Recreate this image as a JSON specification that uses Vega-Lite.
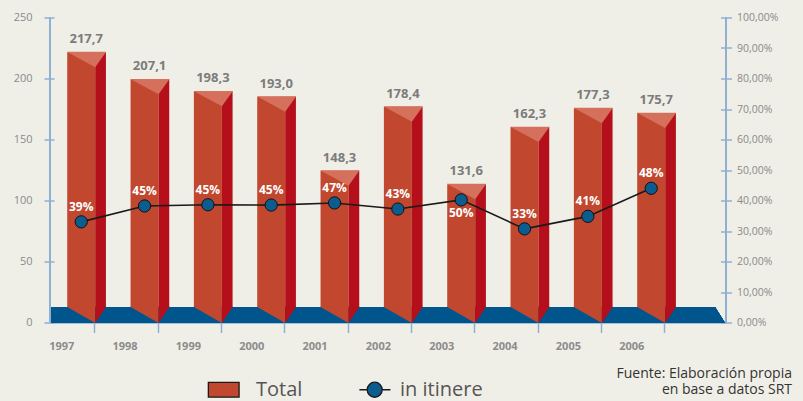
{
  "$schema": "https://vega.github.io/schema/vega-lite/v6.json",
  "width": 676,
  "height": 305,
  "autosize": {"type": "none"},
  "padding": {"left": 50, "top": 17.5, "right": 77, "bottom": 78.5},
  "background": "#f0efe7",
  "data": {
    "values": [
      {"anio": 1997, "valor": 221.5, "total": "217,7", "pct": 0.330, "pct_txt": "39%"},
      {"anio": 1998, "valor": 199.3, "total": "207,1", "pct": 0.382, "pct_txt": "45%"},
      {"anio": 1999, "valor": 189.5, "total": "198,3", "pct": 0.386, "pct_txt": "45%"},
      {"anio": 2000, "valor": 185.1, "total": "193,0", "pct": 0.385, "pct_txt": "45%"},
      {"anio": 2001, "valor": 124.4, "total": "148,3", "pct": 0.392, "pct_txt": "47%"},
      {"anio": 2002, "valor": 176.9, "total": "178,4", "pct": 0.372, "pct_txt": "43%"},
      {"anio": 2003, "valor": 113.3, "total": "131,6", "pct": 0.402, "pct_txt": "50%"},
      {"anio": 2004, "valor": 160.2, "total": "162,3", "pct": 0.307, "pct_txt": "33%"},
      {"anio": 2005, "valor": 175.6, "total": "177,3", "pct": 0.348, "pct_txt": "41%"},
      {"anio": 2006, "valor": 171.7, "total": "175,7", "pct": 0.440, "pct_txt": "48%"}
    ]
  },
  "title": {
    "text": ["Fuente: Elaboración propia", "en base a datos SRT"],
    "orient": "bottom",
    "anchor": "end",
    "frame": "group",
    "align": "right",
    "baseline": "top",
    "fontSize": 14,
    "fontWeight": "normal",
    "font": "Open Sans",
    "color": "#333333",
    "lineHeight": 15.5,
    "offset": -33,
    "dx": 66
  },
  "encoding": {
    "x": {
      "field": "anio",
      "type": "quantitative",
      "scale": {"domain": [1996.507, 2007.181], "nice": false, "zero": false, "padding": 0},
      "axis": {
        "values": [1997, 1998, 1999, 2000, 2001, 2002, 2003, 2004, 2005, 2006],
        "format": "d",
        "title": null,
        "grid": false,
        "domainColor": "#8fb0d3",
        "domainWidth": 1.5,
        "tickColor": "#8fb0d3",
        "tickWidth": 1.5,
        "tickSize": 10,
        "tickOffset": 13,
        "labelOffset": -33,
        "labelPadding": 8,
        "labelFont": "Open Sans",
        "labelFontSize": 11,
        "labelFontWeight": "bold",
        "labelColor": "#8c8c8c"
      }
    }
  },
  "layer": [
    {
      "layer": [
        {
          "mark": {"type": "rect", "color": "#00558c", "opacity": 1},
          "encoding": {
            "x": {"datum": 1996.507},
            "x2": {"datum": 2007.007},
            "y": {"datum": 0, "scale": {"domain": [0, 250], "nice": false}},
            "y2": {"datum": 12.7}
          }
        },
        {
          "mark": {"type": "point", "filled": true, "opacity": 1, "color": "#00558c", "size": 1600, "shape": "M-0.05,0.03L-0.05,-0.78L0,-0.78L0.5,0.03Z"},
          "encoding": {
            "x": {"datum": 2007.007},
            "y": {"datum": 0, "scale": {"domain": [0, 250], "nice": false}}
          }
        },
        {
          "mark": {"type": "bar", "width": 28, "opacity": 1, "color": "#c1472f"},
          "encoding": {
            "y": {
              "field": "valor",
              "type": "quantitative",
              "scale": {"domain": [0, 250], "nice": false},
              "axis": {
                "title": null,
                "values": [0, 50, 100, 150, 200, 250],
                "tickCount": 10,
                "grid": false,
                "domain": false,
                "offset": -4,
                "tickSize": 10,
                "tickColor": "#8fb0d3",
                "tickWidth": 1.5,
                "labelPadding": 12,
                "labelOverlap": false,
                "labelFont": "Open Sans",
                "labelFontSize": 11,
                "labelColor": "#8a8a8a"
              }
            },
            "y2": {"datum": 12.7}
          }
        },
        {
          "mark": {"type": "bar", "width": 10.7, "xOffset": 19.35, "color": "#b40f1a", "opacity": 1},
          "encoding": {
            "y": {"field": "valor", "type": "quantitative", "scale": {"domain": [0, 250], "nice": false}},
            "y2": {"datum": 12.7}
          }
        },
        {
          "mark": {"type": "point", "filled": true, "opacity": 1, "color": "#d4705b", "size": 1600, "shape": "M-0.72,-0.02L1.25,-0.02L0.7,0.75Z"},
          "encoding": {
            "y": {"field": "valor", "type": "quantitative", "scale": {"domain": [0, 250], "nice": false}}
          }
        },
        {
          "mark": {"type": "point", "filled": true, "opacity": 1, "color": "#c1472f", "size": 1600, "shape": "M-0.7,-0.8L-0.7,-0.78L0.7,0.02L0.7,-0.8Z"},
          "encoding": {
            "y": {"datum": 0, "scale": {"domain": [0, 250], "nice": false}}
          }
        },
        {
          "mark": {"type": "point", "filled": true, "opacity": 1, "color": "#b40f1a", "size": 1600, "shape": "M0.7,-0.8L0.7,0.02L1.235,-0.78L1.235,-0.8Z"},
          "encoding": {
            "y": {"datum": 0, "scale": {"domain": [0, 250], "nice": false}}
          }
        },
        {
          "mark": {"type": "rule", "color": "#8fb0d3", "strokeWidth": 1.5},
          "encoding": {
            "x": {"datum": 1996.507},
            "y": {"datum": 0, "scale": {"domain": [0, 250], "nice": false}},
            "y2": {"datum": 250}
          }
        },
        {
          "mark": {"type": "rule", "color": "#8fb0d3", "strokeWidth": 1.5},
          "encoding": {
            "x": {"datum": 2007.181},
            "y": {"datum": 0, "scale": {"domain": [0, 250], "nice": false}},
            "y2": {"datum": 250}
          }
        },
        {
          "mark": {"type": "text", "font": "Open Sans", "fontSize": 13, "fontWeight": "bold", "color": "#7c7c7c", "dx": 5, "dy": -9, "baseline": "alphabetic"},
          "encoding": {
            "y": {"field": "valor", "type": "quantitative", "scale": {"domain": [0, 250], "nice": false}},
            "text": {"field": "total"}
          }
        }
      ]
    },
    {
      "layer": [
        {
          "mark": {"type": "line", "color": "#1a1a1a", "strokeWidth": 1.6},
          "encoding": {
            "y": {
              "field": "pct",
              "type": "quantitative",
              "scale": {"domain": [0, 1], "nice": false},
              "axis": {
                "orient": "right",
                "title": null,
                "values": [0, 0.1, 0.2, 0.3, 0.4, 0.5, 0.6, 0.7, 0.8, 0.9, 1],
                "tickCount": 20,
                "format": ".2%",
                "grid": false,
                "domain": false,
                "offset": -5.5,
                "tickSize": 11,
                "tickColor": "#8fb0d3",
                "tickWidth": 1.5,
                "labelPadding": 5,
                "labelOverlap": false,
                "labelFont": "Open Sans",
                "labelFontSize": 10.5,
                "labelColor": "#8a8a8a"
              }
            }
          }
        },
        {
          "mark": {"type": "point", "filled": true, "opacity": 0, "size": 150, "stroke": "#1a1a1a", "strokeWidth": 1.3},
          "encoding": {
            "y": {"field": "pct", "type": "quantitative", "scale": {"domain": [0, 1], "nice": false}},
            "color": {
              "datum": "in itinere",
              "type": "nominal",
              "scale": {"domain": ["Total", "in itinere"], "range": ["#c1472f", "#0b5c8f"]},
              "legend": {"title": null}
            },
            "shape": {
              "datum": "in itinere",
              "type": "nominal",
              "scale": {
                "domain": ["Total", "in itinere"],
                "range": [
                  "M-1.29,-0.46H0.63V0.46H-1.29Z",
                  "M-0.85,0H-0.364M0.576,0H1.09M-0.364,0A0.47,0.47 0 1,1 0.576,0A0.47,0.47 0 1,1 -0.364,0Z"
                ]
              },
              "legend": {"title": null}
            }
          }
        },
        {
          "mark": {"type": "point", "filled": true, "opacity": 1, "size": 150, "color": "#0b5c8f", "stroke": "#111111", "strokeWidth": 1},
          "encoding": {
            "y": {"field": "pct", "type": "quantitative", "scale": {"domain": [0, 1], "nice": false}}
          }
        },
        {
          "transform": [{"filter": "datum.anio != 2003"}],
          "mark": {"type": "text", "font": "Open Sans", "fontSize": 12, "fontWeight": "bold", "color": "#ffffff", "dy": -15, "baseline": "middle"},
          "encoding": {
            "y": {"field": "pct", "type": "quantitative", "scale": {"domain": [0, 1], "nice": false}},
            "text": {"field": "pct_txt"}
          }
        },
        {
          "transform": [{"filter": "datum.anio == 2003"}],
          "mark": {"type": "text", "font": "Open Sans", "fontSize": 12, "fontWeight": "bold", "color": "#ffffff", "dy": 13, "baseline": "middle"},
          "encoding": {
            "y": {"field": "pct", "type": "quantitative", "scale": {"domain": [0, 1], "nice": false}},
            "text": {"field": "pct_txt"}
          }
        }
      ]
    }
  ],
  "resolve": {"scale": {"y": "independent"}},
  "config": {
    "view": {"stroke": null},
    "font": "Open Sans",
    "legend": {
      "orient": "none",
      "direction": "horizontal",
      "legendX": 162,
      "legendY": 354.8,
      "padding": 0,
      "symbolSize": 1024,
      "symbolOpacity": 1,
      "symbolStrokeWidth": 1.3,
      "labelOffset": 10,
      "columnPadding": 53,
      "labelFont": "Open Sans",
      "labelFontSize": 20,
      "labelColor": "#555555"
    },
    "locale": {"number": {"decimal": ",", "thousands": ".", "grouping": [3], "currency": ["$", ""]}}
  }
}
